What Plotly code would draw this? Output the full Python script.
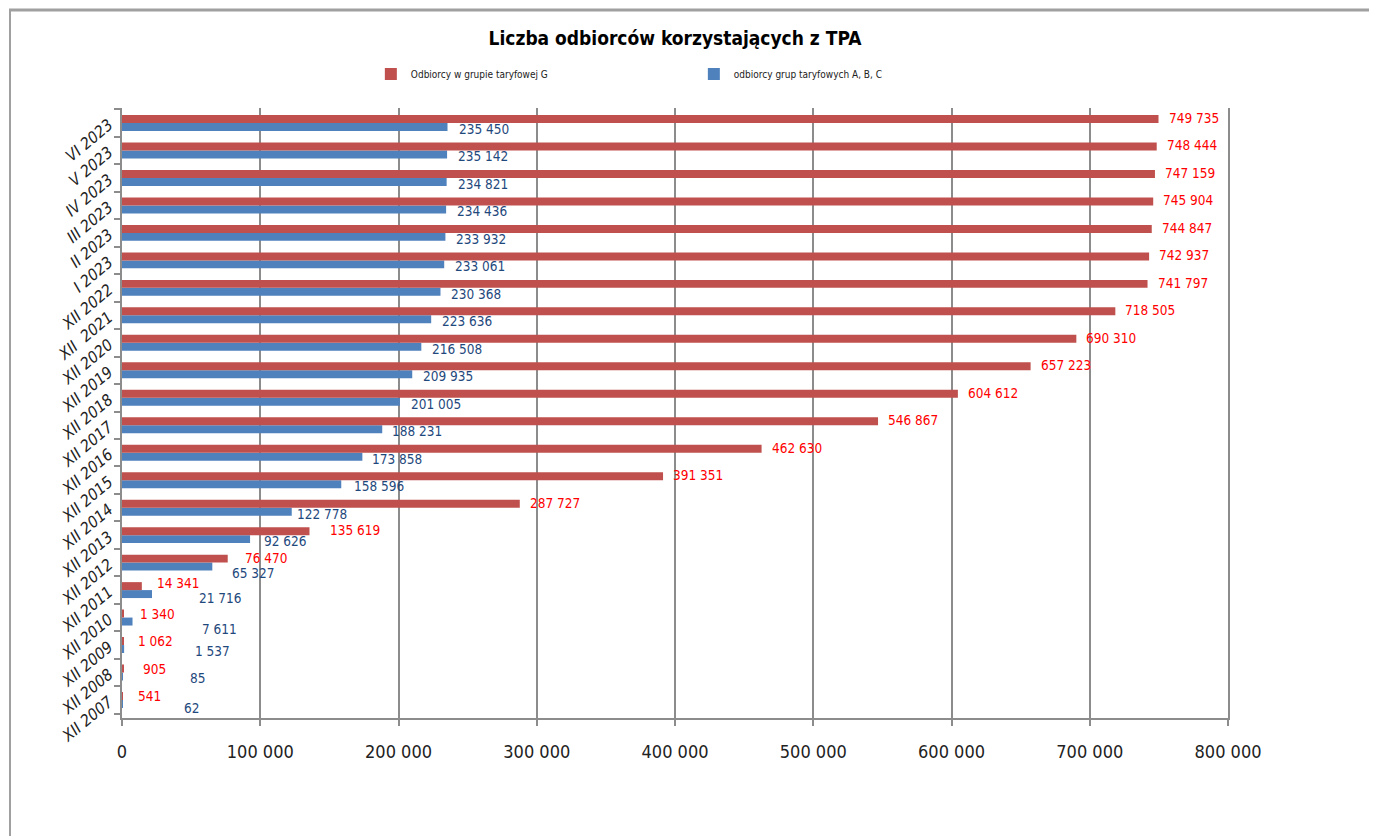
import plotly.graph_objects as go

categories = ["XII 2007", "XII 2008", "XII 2009", "XII 2010", "XII 2011", "XII 2012",
              "XII 2013", "XII 2014", "XII 2015", "XII 2016", "XII 2017", "XII 2018",
              "XII 2019", "XII 2020", "XII  2021", "XII 2022", "I 2023", "II 2023",
              "III 2023", "IV 2023", "V 2023", "VI 2023"]
group_g = [541, 905, 1062, 1340, 14341, 76470, 135619, 287727, 391351, 462630, 546867,
           604612, 657223, 690310, 718505, 741797, 742937, 744847, 745904, 747159,
           748444, 749735]
group_abc = [62, 85, 1537, 7611, 21716, 65327, 92626, 122778, 158596, 173858, 188231,
             201005, 209935, 216508, 223636, 230368, 233061, 233932, 234436, 234821,
             235142, 235450]
x_ticks = [0, 100000, 200000, 300000, 400000, 500000, 600000, 700000, 800000]

# label offsets (px) from bar ends / category centres, as placed in the original
shift_g = [13, 18, 13, 14, 13, 15, 19] + [8] * 15
shift_abc = [60, 66, 69, 67, 45, 18, 12, 3, 11, 8, 8, 9, 9, 9, 9, 9, 9, 9, 9, 9, 9, 9]
yoff_g = [4, 4, 4, 4, 7] + [5] * 17
yoff_abc = [-8, -5, -6, -11, -8, -10] + [-6] * 16

FONT = "DejaVu Sans Condensed, Liberation Sans Narrow, Arial Narrow, sans-serif"
RED = "#C0504D"
BLUE = "#4F81BD"

OFF = 8                   # page body adds an 8px offset
W, H = 1369, 828
L, R, T, B = 114, 149, 100, 118
PW, PH = W - L - R, H - T - B
PX0, PY0 = L + OFF, T + OFF   # page position of the plot area's top-left corner

def fmt(v):
    return f"{v:,}".replace(",", " ")

def px(xpage):
    return (xpage - PX0) / PW

def py(ypage):
    return 1 - (ypage - PY0) / PH

fig = go.Figure()
fig.add_trace(go.Bar(y=categories, x=group_abc, orientation="h",
                     name="odbiorcy grup taryfowych A, B, C",
                     marker=dict(color=BLUE, line=dict(width=0)), legendrank=2))
fig.add_trace(go.Bar(y=categories, x=group_g, orientation="h",
                     name="Odbiorcy w grupie taryfowej G",
                     marker=dict(color=RED, line=dict(width=0)), legendrank=1))

annotations = []
for c, v, s, ys in zip(categories, group_g, shift_g, yoff_g):
    annotations.append(dict(x=v, y=c, text=fmt(v), showarrow=False, xanchor="left",
                            yanchor="middle", xshift=s, yshift=ys,
                            font=dict(family=FONT, size=13.5, color="#FF0000")))
for c, v, s, ys in zip(categories, group_abc, shift_abc, yoff_abc):
    annotations.append(dict(x=v, y=c, text=fmt(v), showarrow=False, xanchor="left",
                            yanchor="middle", xshift=s, yshift=ys,
                            font=dict(family=FONT, size=13.5, color="#1F497D")))

frame = "#A0A0A0"
fig.update_layout(
    width=W, height=H,
    margin=dict(l=L, r=R, t=T, b=B),
    paper_bgcolor="white", plot_bgcolor="white",
    barmode="group", bargap=0.42, bargroupgap=0,
    separators=", ",
    title=dict(text="<b>Liczba odbiorców korzystających z TPA</b>", x=0.5, xref="paper",
               xanchor="center", y=1 - 30 / H, yanchor="middle",
               font=dict(family=FONT, size=19, color="#000000")),
    legend=dict(orientation="h", x=0.225, y=py(74), xanchor="left",
                yanchor="middle",
                font=dict(family=FONT, size=10, color="#222222"),
                entrywidth=278, entrywidthmode="pixels", itemwidth=30,
                bgcolor="rgba(0,0,0,0)"),
    annotations=annotations,
    xaxis=dict(range=[0, 800000], tickvals=x_ticks, tickformat=",d",
               showgrid=True, gridcolor="#8C8C8C", gridwidth=2,
               showline=True, linecolor="#8C8C8C", linewidth=2,
               ticks="outside", ticklen=6, tickcolor="#8C8C8C", tickwidth=2,
               ticklabelstandoff=10, zeroline=False,
               tickfont=dict(family=FONT, size=18, color="#222222")),
    yaxis=dict(type="category", categoryorder="array", categoryarray=categories,
               showline=True, linecolor="#8C8C8C", linewidth=2, mirror=True,
               ticks="outside", tickson="boundaries", ticklen=6, tickcolor="#8C8C8C",
               tickwidth=2, showgrid=False, tickangle=-40, ticklabelstandoff=8,
               tickfont=dict(family=FONT, size=16, color="#222222", style="italic")),
    shapes=[
        dict(type="line", xref="paper", yref="paper", x0=px(9), x1=px(1370),
             y0=py(10), y1=py(10), line=dict(color=frame, width=3)),
        dict(type="line", xref="paper", yref="paper", x0=px(10), x1=px(10),
             y0=py(10), y1=py(836), line=dict(color=frame, width=2)),
        dict(type="line", xref="paper", yref="paper", x0=px(1370), x1=px(1370),
             y0=py(10), y1=py(836), line=dict(color=frame, width=2)),
    ],
)

fig.write_html("out.html")
